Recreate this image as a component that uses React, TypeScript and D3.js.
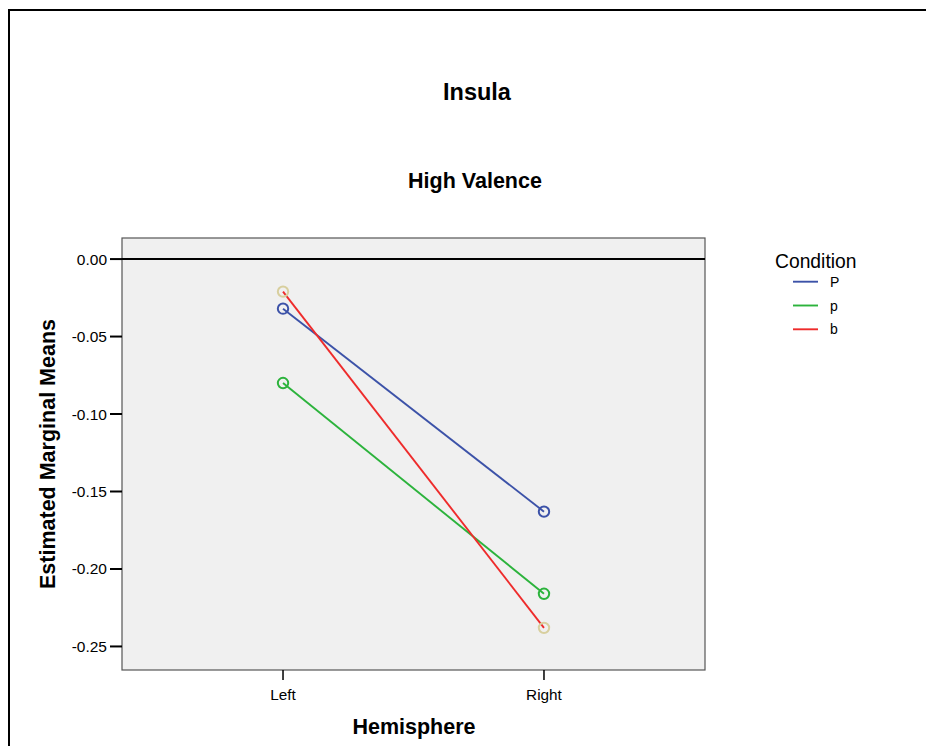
import React from "react";
import * as d3 from "d3";

const hemispheres = ["Left", "Right"];
const conditions = ["P", "p", "b"];
const seriesP = [-0.032, -0.163];
const seriesp = [-0.080, -0.216];
const seriesb = [-0.021, -0.238];
const yTicks = [0, -0.05, -0.1, -0.15, -0.2, -0.25];
const lineColors = ["#3c52a8", "#2cb33c", "#ee2b2b"];
const markerColors = ["#3c52a8", "#2cb33c", "#d8cf9e"];

export default function App() {
  const W = 926, H = 746;
  const pl = 122, pr = 705, pt = 238, pb = 670;
  const x = d3.scalePoint<string>().domain(hemispheres).range([pl, pr]).padding(0.617);
  const y = d3.scaleLinear().domain([-0.2652, 0.0136]).range([pb, pt]);
  const series = [seriesP, seriesp, seriesb];
  const line = d3.line<number>().x((_, i) => x(hemispheres[i])!).y((d) => y(d));
  const font = "'Liberation Sans', Arial, sans-serif";
  const fmt = (t: number) => d3.format(".2f")(t).replace("\u2212", "-");
  return (
    <svg width={W} height={H} style={{ position: "absolute", left: 0, top: 0 }} fontFamily={font}>
      <rect x={0} y={0} width={W} height={H} fill="#fff" />
      <rect x={9} y={10} width={W + 20} height={H + 20} fill="none" stroke="#000" strokeWidth={2} />
      <text x={477} y={100} textAnchor="middle" fontSize={23.5} fontWeight="bold">Insula</text>
      <text x={475} y={188} textAnchor="middle" fontSize={21.5} fontWeight="bold">High Valence</text>
      <rect x={pl} y={pt} width={pr - pl} height={pb - pt} fill="#f0f0f0" stroke="#555" strokeWidth={1.2} />
      <line x1={pl} x2={pr} y1={y(0)} y2={y(0)} stroke="#000" strokeWidth={2} />
      {yTicks.map((t) => (
        <g key={t}>
          <line x1={pl - 12} x2={pl} y1={y(t)} y2={y(t)} stroke="#000" strokeWidth={2} />
          <text x={107} y={y(t) + 5.5} textAnchor="end" fontSize={15.5}>{fmt(t)}</text>
        </g>
      ))}
      {hemispheres.map((h) => (
        <g key={h}>
          <line x1={x(h)!} x2={x(h)!} y1={pb} y2={pb + 10} stroke="#000" strokeWidth={1.5} />
          <text x={x(h)!} y={700} textAnchor="middle" fontSize={15.3}>{h}</text>
        </g>
      ))}
      <text x={414} y={734} textAnchor="middle" fontSize={21.5} fontWeight="bold">Hemisphere</text>
      <text transform={`translate(55,${454}) rotate(-90)`} textAnchor="middle" fontSize={21.5} fontWeight="bold">Estimated Marginal Means</text>
      {series.map((s, i) => (
        <path key={i} d={line(s)!} fill="none" stroke={lineColors[i]} strokeWidth={1.9} />
      ))}
      {series.map((s, i) =>
        s.map((v, j) => (
          <circle key={`${i}-${j}`} cx={x(hemispheres[j])!} cy={y(v)} r={5.2} fill="none" stroke={markerColors[i]} strokeWidth={2} />
        ))
      )}
      <text x={775} y={268} fontSize={19.3}>Condition</text>
      {conditions.map((c, i) => (
        <g key={c}>
          <line x1={793} x2={818} y1={281.7 + i * 23.8} y2={281.7 + i * 23.8} stroke={lineColors[i]} strokeWidth={1.9} />
          <text x={830} y={286.7 + i * 23.8} fontSize={14}>{c}</text>
        </g>
      ))}
    </svg>
  );
}
